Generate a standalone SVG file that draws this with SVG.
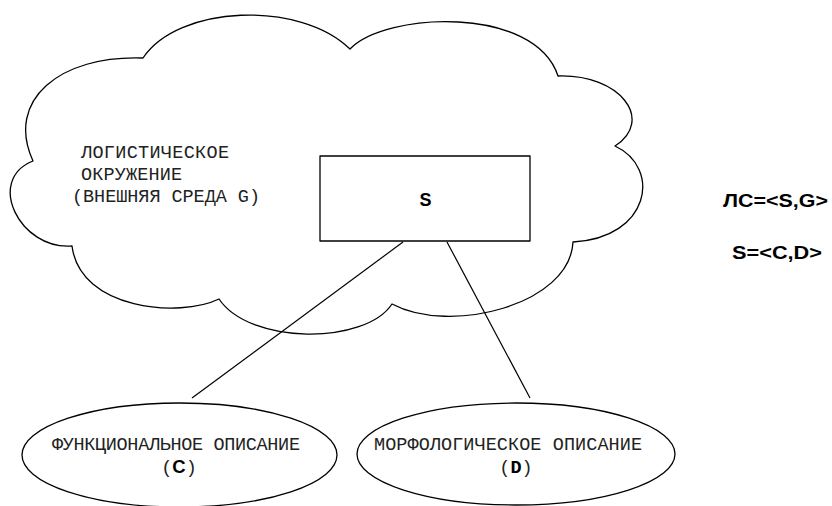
<svg xmlns="http://www.w3.org/2000/svg" width="832" height="506" viewBox="0 0 832 506">
<style>
.shape{fill:none;stroke:#000;stroke-width:1.3;stroke-linejoin:round}
.conn{stroke:#000;stroke-width:1.2;fill:none}
.mono{font-family:"Liberation Mono","Courier New",monospace;font-size:18.5px;fill:#222}
.sansb{font-family:"Liberation Sans",Arial,sans-serif;font-weight:bold;fill:#000}
.monob{font-family:"Liberation Mono","Courier New",monospace;font-weight:bold;fill:#000}
</style>
<rect width="832" height="506" fill="#fff"/>
<g id="cloud">
<path class="shape" d="M143,58 C178,5 300,0 350,49 C385,12 535,5 558,76 C620,74 655,120 615,146 C662,168 650,238 573,242 C570,305 450,335 392,304 C365,345 250,345 219,299 C180,318 80,310 72,246 C20,250 -15,180 33,161 C5,100 60,55 143,58 Z"/>
<text class="mono" x="81" y="158" textLength="148" lengthAdjust="spacing">ЛОГИСТИЧЕСКОЕ</text>
<text class="mono" x="81" y="180" textLength="101" lengthAdjust="spacing">ОКРУЖЕНИЕ</text>
<text class="mono" x="72" y="202" textLength="188" lengthAdjust="spacing">(ВНЕШНЯЯ СРЕДА G)</text>
</g>
<g id="connectors">
<line class="conn" x1="403" y1="242" x2="192" y2="398"/>
<line class="conn" x1="447" y1="242" x2="530" y2="398"/>
</g>
<g id="box-s">
<rect class="shape" x="320" y="156" width="210" height="85" style="fill:#fff"/>
<text class="sansb" x="425.5" y="206" font-size="18" text-anchor="middle">S</text>
</g>
<g id="ellipse-c">
<ellipse class="shape" cx="179.5" cy="455" rx="157.5" ry="52"/>
<text class="mono" x="52" y="450" textLength="248" lengthAdjust="spacing">ФУНКЦИОНАЛЬНОЕ ОПИСАНИЕ</text>
<text class="mono" x="179" y="473" text-anchor="middle">(<tspan class="sansb">C</tspan>)</text>
</g>
<g id="ellipse-d">
<ellipse class="shape" cx="516" cy="454" rx="159" ry="51"/>
<text class="mono" x="374" y="450" textLength="268" lengthAdjust="spacing">МОРФОЛОГИЧЕСКОЕ ОПИСАНИЕ</text>
<text class="mono" x="516" y="473" text-anchor="middle">(<tspan class="monob">D</tspan>)</text>
</g>
<g id="formulas">
<text class="sansb" x="723" y="207" font-size="18" textLength="105" lengthAdjust="spacingAndGlyphs">ЛС=&lt;S,G&gt;</text>
<text class="sansb" x="732" y="259" font-size="19" textLength="90" lengthAdjust="spacingAndGlyphs">S=&lt;C,D&gt;</text>
</g>
</svg>
